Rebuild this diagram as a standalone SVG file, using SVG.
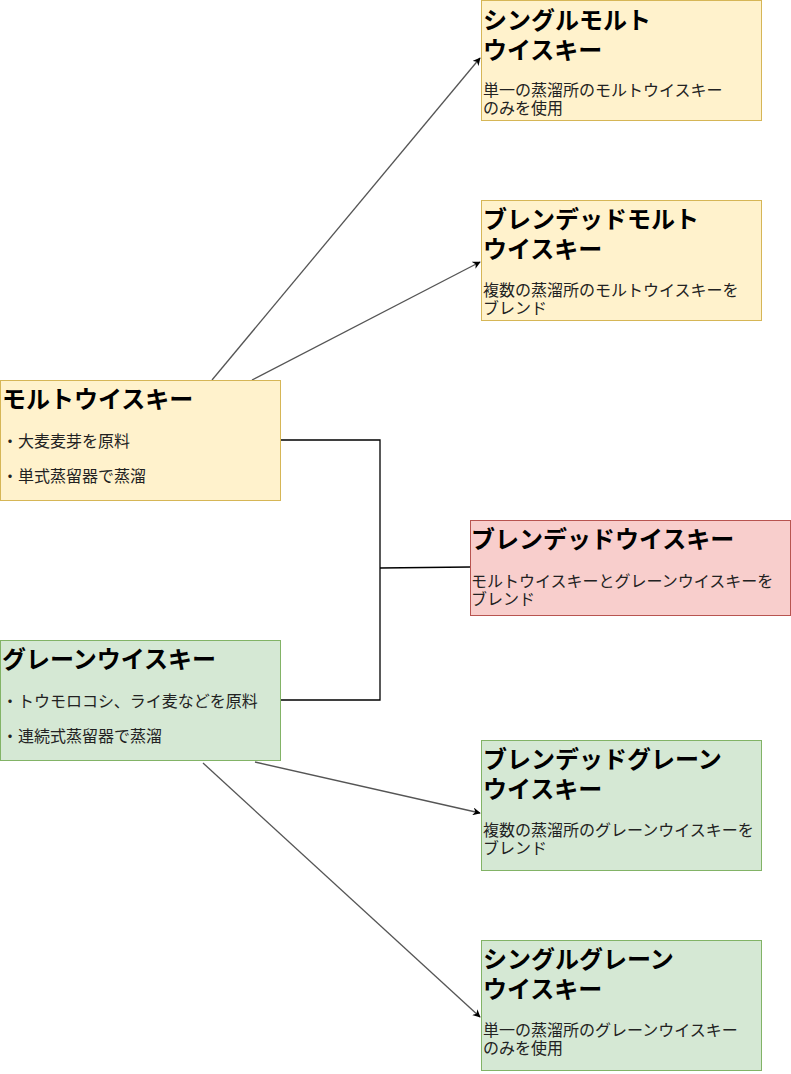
<svg xmlns="http://www.w3.org/2000/svg" width="791" height="1074" viewBox="0 0 791 1074">
<style>
.t{font-family:"Noto Sans CJK JP","Noto Sans",sans-serif;font-size:24px;font-weight:bold;fill:#000}
.b{font-family:"Noto Sans CJK JP","Noto Sans",sans-serif;font-size:16px;fill:#222}
.y{fill:#fff2cc;stroke:#d6b656}
.g{fill:#d5e8d4;stroke:#82b366}
.r{fill:#f8cecc;stroke:#b85450}
.a{fill:none;stroke:#555;stroke-width:1.3;marker-end:url(#ah)}
.e{fill:none;stroke:#000;stroke-width:1.3}
</style>
<defs>
<marker id="ah" viewBox="0 0 10 10" refX="9" refY="5" markerWidth="8" markerHeight="8" markerUnits="userSpaceOnUse" orient="auto">
<path d="M0,0 L10,5 L0,10 L3,5 z" fill="#000"/>
</marker>
</defs>
<rect width="791" height="1074" fill="#fff"/>
<g id="connectors">
<path class="a" d="M212,380 L480,58"/>
<path class="a" d="M252,380 L480,262"/>
<path class="e" d="M280,440 L380,440 L380,700 L280,700"/>
<path class="e" d="M380,568 L470,567"/>
<path class="a" d="M255,762 L480,813"/>
<path class="a" d="M203,763 L480,1017"/>
</g>
<g id="single-malt">
<rect class="y" x="481.5" y="0.5" width="280" height="120"/>
<text class="t" x="483" y="29">シングルモルト<tspan x="483" dy="30">ウイスキー</tspan></text>
<text class="b" x="483" y="96">単一の蒸溜所のモルトウイスキー<tspan x="483" dy="18">のみを使用</tspan></text>
</g>
<g id="blended-malt">
<rect class="y" x="481.5" y="200.5" width="280" height="120"/>
<text class="t" x="483" y="228">ブレンデッドモルト<tspan x="483" dy="30">ウイスキー</tspan></text>
<text class="b" x="483" y="296">複数の蒸溜所のモルトウイスキーを<tspan x="483" dy="18">ブレンド</tspan></text>
</g>
<g id="malt">
<rect class="y" x="0.5" y="380.5" width="280" height="120"/>
<text class="t" x="2" y="408">モルトウイスキー</text>
<text class="b" x="2" y="447">・大麦麦芽を原料</text>
<text class="b" x="2" y="482">・単式蒸留器で蒸溜</text>
</g>
<g id="blended">
<rect class="r" x="470.5" y="520.5" width="320" height="95"/>
<text class="t" x="471" y="548">ブレンデッドウイスキー</text>
<text class="b" x="471" y="587">モルトウイスキーとグレーンウイスキーを<tspan x="471" dy="18">ブレンド</tspan></text>
</g>
<g id="grain">
<rect class="g" x="0.5" y="640.5" width="280" height="120"/>
<text class="t" x="2" y="668">グレーンウイスキー</text>
<text class="b" x="2" y="707">・トウモロコシ、ライ麦などを原料</text>
<text class="b" x="2" y="742">・連続式蒸留器で蒸溜</text>
</g>
<g id="blended-grain">
<rect class="g" x="481.5" y="740.5" width="280" height="130"/>
<text class="t" x="483" y="768">ブレンデッドグレーン<tspan x="483" dy="30">ウイスキー</tspan></text>
<text class="b" x="483" y="836">複数の蒸溜所のグレーンウイスキーを<tspan x="483" dy="18">ブレンド</tspan></text>
</g>
<g id="single-grain">
<rect class="g" x="481.5" y="940.5" width="280" height="130"/>
<text class="t" x="483" y="968">シングルグレーン<tspan x="483" dy="30">ウイスキー</tspan></text>
<text class="b" x="483" y="1036">単一の蒸溜所のグレーンウイスキー<tspan x="483" dy="18">のみを使用</tspan></text>
</g>
</svg>
